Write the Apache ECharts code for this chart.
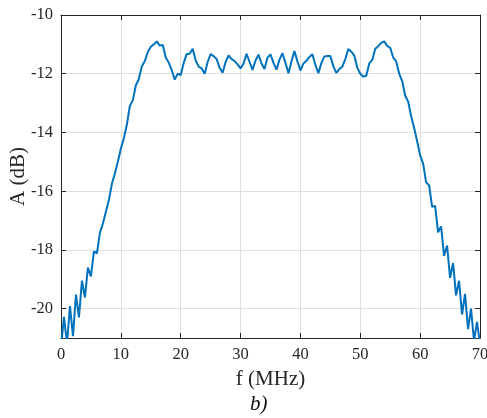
<!DOCTYPE html>
<html>
<head>
<meta charset="utf-8">
<script src="https://cdn.jsdelivr.net/npm/echarts@6/dist/echarts.min.js"></script>
<style>
  html, body { margin: 0; padding: 0; background: #ffffff; }
  #chart { width: 487px; height: 418px; }
</style>
</head>
<body>
<div id="chart"></div>
<script>
// Frequency grid (MHz), one sample every 0.5 MHz
const freqStart = 0;
const freqStep = 0.5;

// Measured amplitude response A (dB)
const amplitude = [
  -21.3, -20.28, -21.2, -19.91, -20.94, -19.52, -20.3, -19.05, -19.62, -18.6,
  -18.9, -18.05, -18.12, -17.42, -17.1, -16.7, -16.3, -15.75, -15.4, -15.0,
  -14.55, -14.2, -13.74, -13.1, -12.9, -12.4, -12.18, -11.75, -11.57, -11.26,
  -11.08, -11.0, -10.9, -11.04, -11.02, -11.45, -11.62, -11.88, -12.2, -12.0,
  -12.05, -11.63, -11.33, -11.32, -11.15, -11.55, -11.76, -11.82, -12.0, -11.6,
  -11.33, -11.4, -11.5, -11.8, -11.97, -11.6, -11.38, -11.5, -11.57, -11.68,
  -11.82, -11.65, -11.32, -11.6, -11.87, -11.55, -11.35, -11.65, -11.84, -11.45,
  -11.34, -11.63, -11.86, -11.52, -11.3, -11.63, -11.98, -11.58, -11.23, -11.58,
  -11.89, -11.65, -11.56, -11.43, -11.34, -11.7, -11.98, -11.64, -11.41, -11.4,
  -11.4, -11.75, -11.97, -11.84, -11.76, -11.5, -11.16, -11.25, -11.38, -11.8,
  -12.0, -12.1, -12.07, -11.65, -11.53, -11.15, -11.06, -10.95, -10.9, -11.05,
  -11.12, -11.45, -11.58, -12.0, -12.25, -12.74, -12.95, -13.45, -13.85, -14.3,
  -14.78, -15.06, -15.7, -15.8, -16.53, -16.5, -17.4, -17.2, -18.2, -17.85,
  -18.95, -18.45, -19.55, -19.05, -20.2, -19.5, -20.7, -20.0, -21.1, -20.45,
  -21.2
];

// Axis ticks
const xTicks = [0, 10, 20, 30, 40, 50, 60, 70];
const yTicks = [-20, -18, -16, -14, -12, -10];

const xRange = [0, 70];
const yRange = [-21, -10];

const seriesData = amplitude.map((a, i) => [freqStart + i * freqStep, a]);

const axisColor = '#262626';
const gridColor = '#dfdfdf';
const serif = '"Liberation Serif", "Times New Roman", serif';

const chart = echarts.init(document.getElementById('chart'), null, { renderer: 'canvas' });

const tickStyle = { inside: true, length: 5, lineStyle: { color: axisColor, width: 1 } };

chart.setOption({
  animation: false,
  backgroundColor: '#ffffff',
  grid: { left: 61, right: 7, top: 15, bottom: 80, containLabel: false, outerBoundsMode: 'none' },
  xAxis: [
    {
      type: 'value', position: 'bottom', min: xRange[0], max: xRange[1], interval: 10,
      name: 'f (MHz)', nameLocation: 'middle', nameGap: 31, nameMoveOverlap: false,
      nameTextStyle: { fontFamily: serif, fontSize: 21, color: axisColor },
      axisLine: { show: true, onZero: false, lineStyle: { color: axisColor, width: 1 } },
      axisTick: Object.assign({ customValues: xTicks }, tickStyle),
      axisLabel: { customValues: xTicks, fontFamily: serif, fontSize: 16.5, color: axisColor, margin: 8, hideOverlap: false },
      splitLine: { show: true, lineStyle: { color: gridColor, width: 1 } }
    },
    {
      type: 'value', position: 'top', min: xRange[0], max: xRange[1], interval: 10,
      axisLine: { show: true, onZero: false, lineStyle: { color: axisColor, width: 1 } },
      axisTick: Object.assign({ customValues: xTicks }, tickStyle),
      axisLabel: { show: false },
      splitLine: { show: false }
    }
  ],
  yAxis: [
    {
      type: 'value', position: 'left', min: yRange[0], max: yRange[1],
      name: 'A (dB)', nameLocation: 'middle', nameGap: 32, nameRotate: 90, nameMoveOverlap: false,
      nameTextStyle: { fontFamily: serif, fontSize: 21, color: axisColor },
      axisLine: { show: true, onZero: false, lineStyle: { color: axisColor, width: 1 } },
      axisTick: Object.assign({ customValues: yTicks }, tickStyle),
      axisLabel: { customValues: yTicks, fontFamily: serif, fontSize: 16.5, color: axisColor, margin: 8 },
      splitLine: { show: true, lineStyle: { color: gridColor, width: 1 } }
    },
    {
      type: 'value', position: 'right', min: yRange[0], max: yRange[1],
      axisLine: { show: true, onZero: false, lineStyle: { color: axisColor, width: 1 } },
      axisTick: Object.assign({ customValues: yTicks }, tickStyle),
      axisLabel: { show: false },
      splitLine: { show: false }
    }
  ],
  graphic: [
    {
      type: 'text', left: 250, top: 394,
      style: { text: 'b)', fontFamily: serif, fontSize: 21, fontStyle: 'italic', fill: '#111111' }
    }
  ],
  series: [
    {
      type: 'line', xAxisIndex: 0, yAxisIndex: 0,
      data: seriesData, showSymbol: false, clip: true,
      lineStyle: { color: '#0072BD', width: 2 },
      z: 5
    }
  ]
});
</script>
</body>
</html>
